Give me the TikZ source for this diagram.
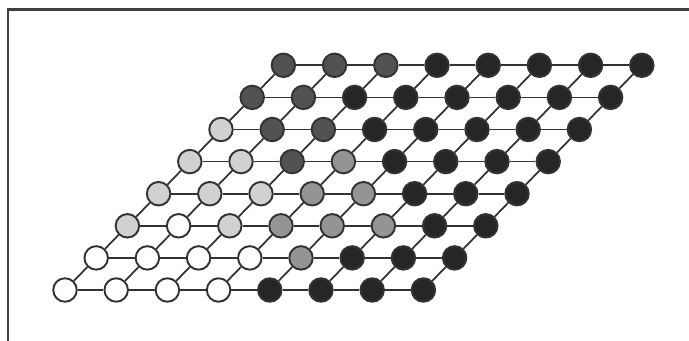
\documentclass[tikz,border=0pt]{standalone}
\begin{document}
\begin{tikzpicture}[x=0.02cm,y=-0.02cm,
  site/.style={circle,draw=black!80,line width=1.1pt,minimum size=0.47cm,inner sep=0pt},
  wht/.style={site,fill=white},
  lgt/.style={site,fill=black!18},
  mid/.style={site,fill=black!42},
  drk/.style={site,fill=black!68},
  blk/.style={site,fill=black!85},
  bond/.style={line width=1pt,draw=black!80}]

% Frame, cut off by the picture edge on the right and at the bottom
\clip (0,0) rectangle (689,341);
\draw[line width=1.4pt,black!75] (8,360) -- (8,9.5) -- (700,9.5);

% Define sites (row 0 at the bottom, column 0 on the left)
\foreach \r/\cols in {0/{wht,wht,wht,wht,blk,blk,blk,blk},
                      1/{wht,wht,wht,wht,mid,blk,blk,blk},
                      2/{lgt,wht,lgt,mid,mid,mid,blk,blk},
                      3/{lgt,lgt,lgt,mid,mid,blk,blk,blk},
                      4/{lgt,lgt,drk,mid,blk,blk,blk,blk},
                      5/{lgt,drk,drk,blk,blk,blk,blk,blk},
                      6/{drk,drk,blk,blk,blk,blk,blk,blk},
                      7/{drk,drk,drk,blk,blk,blk,blk,blk}}
  \foreach \c [count=\i from 0] in \cols
    \node[\c] (s\i-\r) at ({65+51.2*\i+31.2*\r},{290-32.1*\r}) {};

% Bonds along the rows
\foreach \r in {0,...,7}
  \foreach \i in {0,...,6}{
    \pgfmathtruncatemacro\n{\i+1}
    \draw[bond] (s\i-\r) -- (s\n-\r);
  }

% Bonds between rows
\foreach \r in {0,...,6}
  \foreach \i in {0,...,7}{
    \pgfmathtruncatemacro\n{\r+1}
    \draw[bond] (s\i-\r) -- (s\i-\n);
  }

\end{tikzpicture}
\end{document}
